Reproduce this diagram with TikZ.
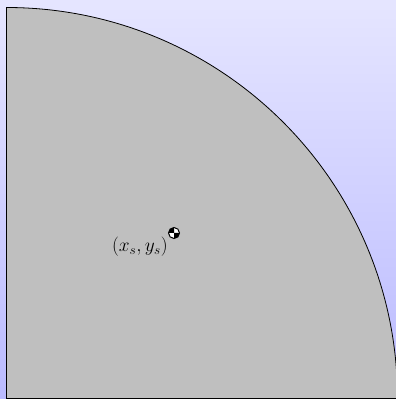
\documentclass[tikz,border=0pt]{standalone}
\usetikzlibrary{calc}
\begin{document}
\begin{tikzpicture}[x=1pt,y=1pt]
\useasboundingbox (0,0) rectangle (396,399);
\shade[top color=blue!10, bottom color=blue!27] (0,0) rectangle (396,399);
\coordinate (O) at (6.5,0.5);
\filldraw[fill=black!25, draw=black, line width=0.8pt] (O) -- ++(391,0) arc[start angle=0, end angle=90, radius=391] -- cycle;
\coordinate (C) at (174,166);
\fill[white] (C) circle (5.5);
\fill[black] (C) -- ++(-5.5,0) arc[start angle=180, end angle=90, radius=5.5] -- cycle;
\fill[black] (C) -- ++(5.5,0) arc[start angle=0, end angle=-90, radius=5.5] -- cycle;
\draw[black, line width=1pt] (C) circle (5.5);
\node[anchor=north east, inner sep=0pt, font=\LARGE] (lbl) at ($(C)+(-6,-4)$) {\scalebox{1.12}{$(x_s,y_s)$}};
\end{tikzpicture}
\end{document}
